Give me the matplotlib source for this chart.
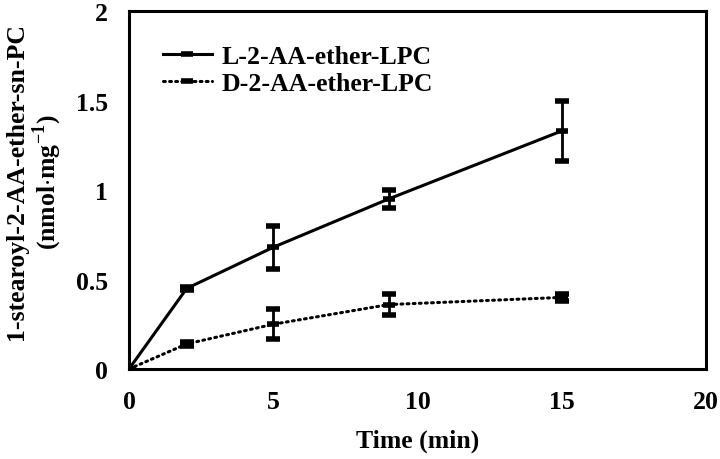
import matplotlib
matplotlib.use("Agg")
import matplotlib.pyplot as plt
from matplotlib.lines import Line2D

plt.rcParams['font.family'] = ['Liberation Serif', 'DejaVu Serif']
plt.rcParams['font.weight'] = 'bold'
plt.rcParams['mathtext.fontset'] = 'custom'
plt.rcParams['mathtext.rm'] = 'Liberation Serif:bold'
plt.rcParams['mathtext.bf'] = 'Liberation Serif:bold'

# data
time = [0, 2, 5, 9, 15]
l_vals = [0, 0.45, 0.68, 0.95, 1.33]
l_err = [0, 0.01, 0.12, 0.05, 0.17]
d_vals = [0, 0.14, 0.25, 0.36, 0.40]
d_err = [0, 0.01, 0.085, 0.06, 0.02]
labels = ['L-2-AA-ether-LPC', 'D-2-AA-ether-LPC']

fs = 18.5
dotted = (0, (0.6, 1.4))

fig = plt.figure(figsize=(7.2, 4.6), dpi=100)
ax = fig.add_axes([129/720, 1-370/460, (706-129)/720, (370-12)/460])

ax.errorbar(time, l_vals, yerr=l_err, color='black', lw=2.2, ls='-',
            marker='_', ms=9, mew=4, capsize=5, capthick=2.5, elinewidth=2)
ax.errorbar(time, d_vals, yerr=d_err, color='black', lw=2.2, ls=dotted,
            dash_capstyle='round', marker='_', ms=9, mew=4, capsize=5,
            capthick=2.5, elinewidth=2)

ax.set_xlim(0, 20)
ax.set_ylim(0, 2)
ax.set_xticks([0, 5, 10, 15, 20])
ax.set_yticks([0, 0.5, 1, 1.5, 2])
ax.set_yticklabels(['0', '0.5', '1', '1.5', '2'])
ax.tick_params(length=0, labelsize=fs, pad=15)
for s in ax.spines.values():
    s.set_linewidth(2.2)

ax.set_xlabel('Time (min)', fontsize=fs, fontweight='bold')
ax.xaxis.set_label_coords(0.5, -0.2)
ax.xaxis.label.set_va('center')
ax.set_ylabel('1-stearoyl-2-AA-ether-sn-PC\n(nmol$\\cdot$mg$^{-1}$)',
              fontsize=fs, fontweight='bold', linespacing=1.1)
ax.yaxis.set_label_coords(-0.163, 0.525)
ax.yaxis.label.set_va('center')

handles = [
    Line2D([], [], color='black', lw=2.2, ls='-', marker='_', ms=9, mew=4),
    Line2D([], [], color='black', lw=2.2, ls=dotted, dash_capstyle='round',
           marker='_', ms=9, mew=4),
]
ax.legend(handles, labels, loc='upper left', bbox_to_anchor=(0.059, 0.905),
          frameon=False, fontsize=fs, handlelength=1.9, handletextpad=0.39,
          labelspacing=0.16, borderpad=0, borderaxespad=0)

fig.savefig('out.png', dpi=100)
